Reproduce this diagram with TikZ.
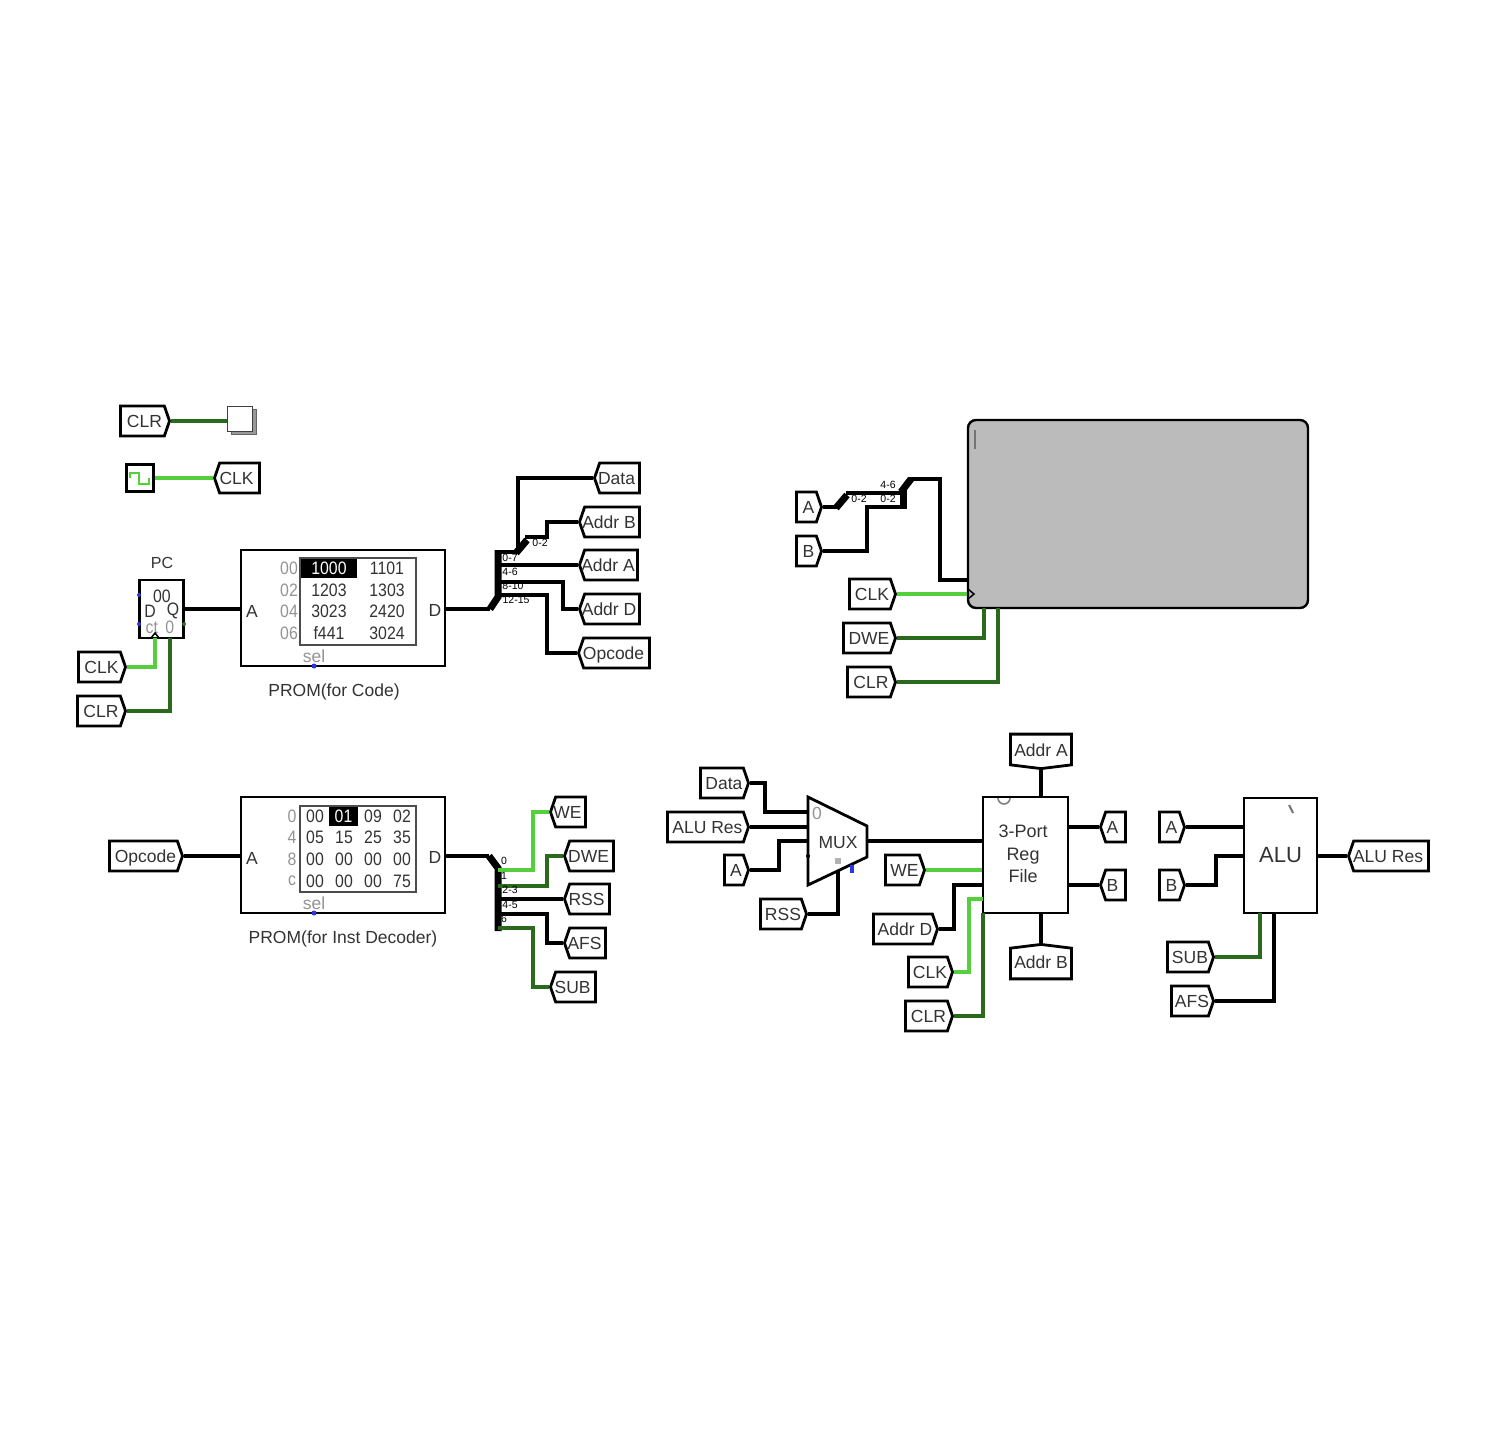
\documentclass[tikz,border=0pt]{standalone}
\usepackage{fontspec}
\setmainfont{Liberation Sans}
\newfontfamily\cellfont[FakeStretch=0.88]{Liberation Sans}
\usetikzlibrary{shapes.symbols, positioning, calc}
\definecolor{WireOn}{HTML}{55D03C}
\definecolor{WireLow}{HTML}{2A6A1C}
\definecolor{LabelGray}{HTML}{333333}
\definecolor{PortBlue}{HTML}{2A35E8}
\definecolor{PanelGray}{HTML}{BBBBBB}
\tikzset{
  lbl/.style={font=\fontsize{17.5}{19}\selectfont, text=LabelGray, inner sep=0pt},
  celllbl/.style={lbl, font=\cellfont\fontsize{18}{19}\selectfont},
  graylbl/.style={lbl, text=black!42},
  graycell/.style={celllbl, text=black!42},
  tiny lbl/.style={font=\fontsize{10.5}{11}\selectfont, inner sep=0pt},
  tag/.style={signal, signal from=nowhere, signal pointer angle=142, draw=black, line width=2.8pt,
    fill=white, lbl, minimum height=30pt, inner xsep=0pt, inner ysep=0pt, line join=miter,
    text height=12.6pt, text depth=0pt},
  tagr/.style={tag, signal to=east, anchor=east, minimum width=#1-2pt, execute at end node={\hspace*{-4pt}}},
  tagl/.style={tag, signal to=west, anchor=west, minimum width=#1-2pt, execute at begin node={\hspace*{-6pt}}},
  tagd/.style={tag, signal to=south, signal pointer angle=166, anchor=south, minimum width=#1-1pt, minimum height=34pt, text height=14pt},
  tagu/.style={tag, signal to=north, signal pointer angle=166, anchor=north, minimum width=#1-1pt, minimum height=34pt, text depth=3pt},
  block/.style={draw=black, line width=2.8pt, fill=white, inner sep=0pt, lbl},
  wire/.style={line width=3.8pt, black, line join=miter},
  hiwire/.style={wire, WireOn},
  lowire/.style={wire, WireLow},
  bus/.style={line width=7pt, black, line cap=butt},
  cellbox/.style={celllbl, fill=black, text=white, minimum width=56pt, minimum height=19pt},
  port/.style={circle, fill=PortBlue, inner sep=0pt, minimum size=5pt},
}
\begin{document}
\begin{tikzpicture}[x=1pt, y=-1pt]
\useasboundingbox (0,0) rectangle (1504,1436);
\fill[white] (0,0) rectangle (1504,1436);

% reset and clock
\node[tagr=51pt] (clrtop) at (171,421) {CLR};
\node[draw=black!60, line width=1pt, fill=black!40, minimum size=25pt, inner sep=0pt] (btnshadow) at (244,422) {};
\node[draw=black!75, line width=1.2pt, fill=white, minimum size=25pt, inner sep=0pt] (btn) at (240,419) {};
\draw[lowire] (clrtop.east) -- (btn.west |- clrtop.east);
\node[block, minimum size=27pt] (clock) at (140,478) {};
\draw[WireOn, line width=2.8pt] (130,478) -- (130,473) -- (139,473) -- (139,484) -- (149,484) -- (149,478);
\node[tagl=47pt] (clkout) at (213,478) {CLK};
\draw[hiwire] (clock.east) -- (clkout.west);

% program counter
\node[lbl, font=\fontsize{16}{18}\selectfont] (pclbl) at (162,563) {PC};
\node[block, minimum width=44pt, minimum height=58pt] (pc) at (161.5,609) {};
\node[celllbl] (pcval) at (162,596) {00};
\node[celllbl] (pcd) at (150,611) {D};
\node[celllbl] (pcq) at (173,611) {Q};
\node[graycell] (pcct) at (160,627) {ct\ \,0};
\node[port, minimum size=4pt] (pcdot1) at (139,595) {};
\node[port, minimum size=4pt] (pcdot2) at (139,624) {};
\node[port, minimum size=4pt, fill=WireLow] (pcdot3) at (184,624) {};
\node[tagr=49pt] (clkpc) at (127,667) {CLK};
\node[tagr=50pt] (clrpc) at (127,711) {CLR};
\draw[hiwire] (clkpc.east) -| (155,638);
\draw[lowire] (clrpc.east) -| (170,638);
\draw[black, line width=1.5pt] (151,638) -- (155,633) -- (159,638);

% code rom
\node[block, minimum width=204pt, minimum height=116pt] (romc) at (343,608) {};
\draw[wire] (pc.east) -- (romc.west |- pc.east);
\node[draw=black!70, line width=1.2pt, minimum width=116pt, minimum height=87pt, inner sep=0pt] (romcgrid) at (358,601.5) {};
\node[cellbox] (romcsel) at (329,568.5) {1000};
\foreach \lab/\yy in {00/568, 02/590, 04/611, 06/633} \node[graycell] (a\lab) at (289,\yy) {\lab};
\node[celllbl] (c12) at (329,590) {1203};
\node[celllbl] (c34) at (329,611) {3023};
\node[celllbl] (c56) at (329,633) {f441};
\node[celllbl] (c11) at (387,568) {1101};
\node[celllbl] (c13) at (387,590) {1303};
\node[celllbl] (c24) at (387,611) {2420};
\node[celllbl] (c30) at (387,633) {3024};
\node[lbl] (romca) at (252,611) {A};
\node[lbl] (romcd) at (435,610) {D};
\node[graylbl] (romcs) at (314,656) {sel};
\node[port] (romcp) at (314,666) {};
\node[lbl] (romclbl) at (334,692) {PROM(for Code)};

% code splitter
\coordinate (sc1) at (490,609);
\coordinate (sc2) at (498,597);
\coordinate (sc3) at (498,550);
\draw[wire] (romc.east |- sc1) -- (sc1);
\draw[bus] (sc1) -- (sc2) -- (sc3);
\node[tagl=47pt] (data) at (593,478) {Data};
\node[tagl=62pt] (addrb) at (578,522) {Addr B};
\node[tagl=60pt] (addra) at (578,565) {Addr A};
\node[tagl=62pt] (addrd) at (578,609) {Addr D};
\node[tagl=73pt] (opcode) at (577,653) {Opcode};
\draw[wire] (498,552) -- (518,552);
\draw[bus] (516,553) -- (527,540);
\draw[wire] (data.west) -| (518,552);
\draw[wire] (addrb.west) -| (547,537) -- (525,537);
\draw[wire] (addra.west) -- (498,565);
\draw[wire] (addrd.west) -| (563,582) -- (498,582);
\draw[wire] (opcode.west) -| (547,595) -- (498,595);
\node[tiny lbl] (sl1) at (510,558) {0-7};
\node[tiny lbl] (sl2) at (510,572) {4-6};
\node[tiny lbl] (sl3) at (513,586) {8-10};
\node[tiny lbl] (sl4) at (516,600) {12-15};
\node[tiny lbl] (sl5) at (540,543) {0-2};

% decoder rom
\node[tagr=75pt] (opin) at (184,856) {Opcode};
\node[block, minimum width=204pt, minimum height=116pt] (romd) at (343,855) {};
\draw[wire] (opin.east) -- (romd.west |- opin.east);
\node[draw=black!70, line width=1.2pt, minimum width=116pt, minimum height=86pt, inner sep=0pt] (romdgrid) at (358,849) {};
\node[cellbox, minimum width=29pt] (romdsel) at (343.5,816) {01};
\foreach \lab/\yy in {0/816, 4/837, 8/859, c/881} \node[graycell] (d\lab) at (292,\yy) {\lab};
\foreach \val/\xx/\yy/\nm in {00/315/816/a, 09/373/816/b, 02/402/816/c,
    05/315/837/d, 15/344/837/e, 25/373/837/f, 35/402/837/g,
    00/315/859/h, 00/344/859/i, 00/373/859/j, 00/402/859/k,
    00/315/881/l, 00/344/881/m, 00/373/881/n, 75/402/881/o}
  \node[celllbl] (v\nm) at (\xx,\yy) {\val};
\node[lbl] (romda) at (252,858) {A};
\node[lbl] (romdd) at (435,857) {D};
\node[graylbl] (romds) at (314,903) {sel};
\node[port] (romdp) at (314,913) {};
\node[lbl] (romdlbl) at (343,939) {PROM(for Inst Decoder)};

% decoder splitter
\coordinate (sd1) at (489,856);
\coordinate (sd2) at (498,868);
\coordinate (sd3) at (498,931);
\draw[wire] (romd.east |- sd1) -- (sd1);
\draw[bus] (sd1) -- (sd2) -- (sd3);
\node[tagl=37pt] (we) at (549,812) {WE};
\node[tagl=51pt] (dwe) at (563,856) {DWE};
\node[tagl=47pt] (rss) at (563,899) {RSS};
\node[tagl=43pt] (afs) at (563,943) {AFS};
\node[tagl=47pt] (sub) at (549,987) {SUB};
\draw[hiwire] (we.west) -| (533,870) -- (498,870);
\draw[lowire] (dwe.west) -| (547,886) -- (498,886);
\draw[wire] (rss.west) -- (498,899);
\draw[wire] (afs.west) -| (547,914) -- (498,914);
\draw[lowire] (sub.west) -| (533,928) -- (498,928);
\node[tiny lbl] (dl0) at (504,861) {0};
\node[tiny lbl] (dl1) at (504,876) {1};
\node[tiny lbl] (dl2) at (510,890) {2-3};
\node[tiny lbl] (dl3) at (510,905) {4-5};
\node[tiny lbl] (dl4) at (504,919) {6};

% terminal panel
\node[draw=black, line width=2.4pt, fill=PanelGray, rounded corners=8pt, minimum width=340pt, minimum height=188pt, inner sep=0pt] (panel) at (1138,514) {};
\draw[black!55, line width=1.2pt] (975,430) -- (975,449);
\node[tagr=27pt] (ain) at (823,507) {A};
\node[tagr=27pt] (bin) at (823,551) {B};
\node[tagr=48pt] (clkpan) at (897,594) {CLK};
\node[tagr=54pt] (dwepan) at (897,638) {DWE};
\node[tagr=50pt] (clrpan) at (897,682) {CLR};
\draw[wire] (ain.east) -- (838,507);
\draw[bus] (836,508) -- (847,495);
\draw[wire] (846,493) -- (903,493);
\draw[wire] (bin.east) -| (867,507) -- (903,507);
\draw[bus] (903,490) -- (903,509);
\draw[bus] (901,492) -- (911,479);
\draw[wire] (909,479) -| (940,580) -- (968,580);
\draw[hiwire] (clkpan.east) -- (967,594);
\draw[black, line width=1.5pt] (968,589) -- (974,594) -- (968,599);
\draw[lowire] (dwepan.east) -| (984,608);
\draw[lowire] (clrpan.east) -| (998,608);
\node[tiny lbl] (pl1) at (859,499) {0-2};
\node[tiny lbl] (pl2) at (888,485) {4-6};
\node[tiny lbl] (pl3) at (888,499) {0-2};

% mux
\node[lbl] (muxlbl) at (838,843) {MUX};
\coordinate (m1) at (808,797);
\coordinate (m2) at (867,826);
\coordinate (m3) at (867,857);
\coordinate (m4) at (808,885);
\draw[line width=2.8pt, black, line join=miter] (m1) -- (m2) -- (m3) -- (m4) -- cycle;
\coordinate (mi0) at (808,812);
\coordinate (mi1) at (808,827);
\coordinate (mi2) at (808,841);
\coordinate (mout) at (867,841);
\coordinate (msel) at (838,870);
\node[graylbl] (muxzero) at (817,813) {0};
\node[tagr=50pt] (datam) at (750,783) {Data};
\node[tagr=83pt] (alum) at (750,827) {ALU Res};
\node[tagr=26pt] (am) at (750,870) {A};
\node[tagr=48pt] (rssm) at (808,914) {RSS};
\draw[wire] (datam.east) -| (765,812) -- (mi0);
\draw[wire] (alum.east) -- (mi1);
\draw[wire] (am.east) -| (779,841) -- (mi2);
\draw[wire] (rssm.east) -| (msel);
\fill[black] (808,856) circle (2pt);
\fill[black!30] (835,858) rectangle (841,864);
\fill[PortBlue] (850,865) rectangle (854,873);

% register file
\node[block, minimum width=85pt, minimum height=116pt] (regf) at (1025.5,855) {};
\node[lbl, align=center, font=\fontsize{18}{22.5}\selectfont] (regflbl) at (1023,854) {3-Port\\Reg\\File};
\draw[black!50, line width=1.6pt] (998,798) arc[start angle=180, end angle=360, radius=6pt];
\node[tagd=62pt] (addraf) at (1041,770) {Addr A};
\node[tagu=62pt] (addrbf) at (1041,943) {Addr B};
\node[tagl=27pt] (af) at (1099,827) {A};
\node[tagl=27pt] (bf) at (1099,885) {B};
\node[tagr=41pt] (wef) at (926,870) {WE};
\node[tagr=66pt] (addrdf) at (939,929) {Addr D};
\node[tagr=46pt] (clkf) at (954,972) {CLK};
\node[tagr=49pt] (clrf) at (954,1016) {CLR};
\draw[wire] (mout) -- (regf.west |- mout);
\draw[wire] (addraf.south) -- (regf.north -| addraf.south);
\draw[wire] (addrbf.north) -- (regf.south -| addrbf.north);
\draw[wire] (af.west) -- (regf.east |- af.west);
\draw[wire] (bf.west) -- (regf.east |- bf.west);
\draw[hiwire] (wef.east) -- (regf.west |- wef.east);
\draw[wire] (addrdf.east) -| (954,885) -- (983,885);
\draw[hiwire] (clkf.east) -| (969,899) -- (983,899);
\draw[lowire] (clrf.east) -| (983,913);

% alu
\node[block, minimum width=73pt, minimum height=115pt, font=\fontsize{22}{24}\selectfont] (alu) at (1280.5,855.5) {ALU};
\draw[black!55, line width=2pt] (1289,805) -- (1293,813);
\node[tagr=27pt] (aa) at (1186,827) {A};
\node[tagr=27pt] (ba) at (1186,885) {B};
\node[tagr=48pt] (suba) at (1215,957) {SUB};
\node[tagr=44pt] (afsa) at (1215,1001) {AFS};
\node[tagl=82pt] (alures) at (1347,856) {ALU Res};
\draw[wire] (aa.east) -- (alu.west |- aa.east);
\draw[wire] (ba.east) -| (1216,856) -- (alu.west |- alures.west);
\draw[lowire] (suba.east) -| (1260,913);
\draw[wire] (afsa.east) -| (1274,913);
\draw[wire] (alu.east |- alures.west) -- (alures.west);
\end{tikzpicture}
\end{document}
